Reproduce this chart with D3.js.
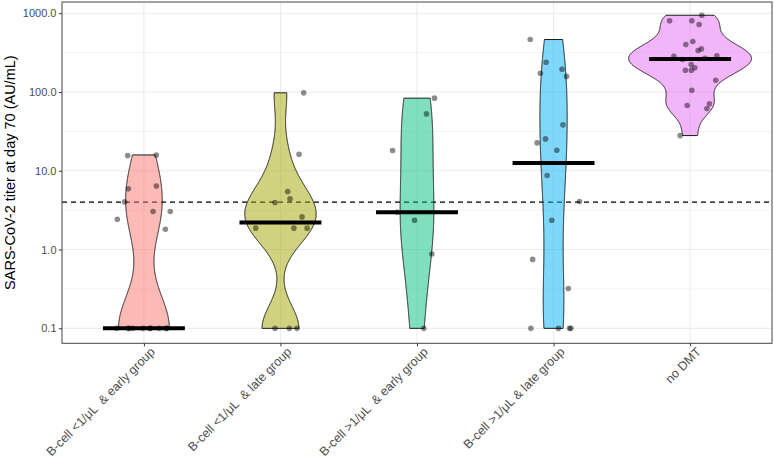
<!DOCTYPE html>
<html><head><meta charset="utf-8">
<script src="https://cdn.jsdelivr.net/npm/d3@7"></script>
<style>
body{margin:0;background:#fff}
text{font-family:"Liberation Sans",Arial,Helvetica,sans-serif}
</style>
</head><body>
<svg id="chart" width="774" height="458"></svg>
<script>
// ---------- data ----------
const categories = [
  "B-cell <1/\u03bcL  & early group",
  "B-cell <1/\u03bcL  & late group",
  "B-cell >1/\u03bcL  & early group",
  "B-cell >1/\u03bcL & late group",
  "no DMT"
];
const colors = ["#F8766D", "#A3A500", "#00BF7D", "#00B0F6", "#E76BF3"];

const g1Values = [15.6, 15.9, 5.9, 6.4, 4.03, 3.04, 3.04, 2.43, 1.81, 0.1, 0.1, 0.1, 0.1, 0.1, 0.1, 0.1, 0.1, 0.1, 0.1];
const g1Jitter = [-0.119, 0.091, -0.114, 0.091, -0.141, 0.067, 0.193, -0.195, 0.157, -0.199, -0.114, -0.082, -0.007, 0.045, 0.111, 0.167, -0.110, 0.048, 0.163];

const g2Values = [97.7, 16.2, 5.45, 4.4, 3.95, 2.6, 1.87, 1.87, 1.87, 0.1, 0.1, 0.1];
const g2Jitter = [0.170, 0.136, 0.053, 0.070, -0.040, 0.158, -0.181, 0.098, 0.195, -0.040, 0.065, 0.121];

const g3Values = [83.6, 52.8, 18.1, 2.98, 2.36, 0.88, 0.1];
const g3Jitter = [0.128, 0.069, -0.179, -0.145, -0.018, 0.109, 0.050];

const g4Values = [464, 239, 195, 173, 158, 38.3, 25.4, 22.6, 18.2, 8.7, 4.07, 2.36, 0.75, 0.32, 0.1, 0.1, 0.1, 0.1];
const g4Jitter = [-0.171, -0.054, 0.062, -0.096, 0.095, 0.069, -0.059, -0.120, 0.024, -0.047, 0.190, -0.013, -0.153, 0.108, -0.166, 0.036, 0.117, 0.127];

const g5Values = [944, 802, 802, 720, 438, 401, 353, 336, 285, 288, 268, 259, 223, 203, 189, 189, 141, 105, 67.4, 70.8, 61.7, 28];
const g5Jitter = [0.086, -0.150, 0.013, 0.066, 0.020, -0.031, 0.083, 0.059, -0.119, 0.196, 0.109, -0.055, 0.008, 0.035, -0.034, 0.010, 0.188, 0.013, -0.021, 0.142, 0.123, -0.073];

const threshold = 4.0;
const yTicks = [0.1, 1, 10, 100, 1000];
const yMinorTicks = [Math.pow(10, -0.5), Math.pow(10, 0.5), Math.pow(10, 1.5), Math.pow(10, 2.5)];
const yTitle = "SARS-CoV-2 titer at day 70 (AU/mL)";

const groupValues = [g1Values, g2Values, g3Values, g4Values, g5Values];
const groupJitter = [g1Jitter, g2Jitter, g3Jitter, g4Jitter, g5Jitter];

// ---------- layout ----------
const panel = {left: 62, right: 772, top: 2, bottom: 343.3};
const svg = d3.select("#chart");

const x = d3.scalePoint().domain(categories).range([panel.left, panel.right]).padding(0.6);
const step = x.step();
const y = d3.scaleLog().domain([Math.pow(10, -1.19), Math.pow(10, 3.143)]).range([panel.bottom, panel.top]);

// grid
const grid = svg.append("g");
grid.selectAll("line.minor").data(yMinorTicks).join("line")
  .attr("x1", panel.left).attr("x2", panel.right)
  .attr("y1", d => y(d)).attr("y2", d => y(d))
  .attr("stroke", "#EBEBEB").attr("stroke-width", 0.6);
grid.selectAll("line.major").data(yTicks).join("line")
  .attr("x1", panel.left).attr("x2", panel.right)
  .attr("y1", d => y(d)).attr("y2", d => y(d))
  .attr("stroke", "#EBEBEB").attr("stroke-width", 1.1);
grid.selectAll("line.vmajor").data(categories).join("line")
  .attr("x1", d => x(d)).attr("x2", d => x(d))
  .attr("y1", panel.top).attr("y2", panel.bottom)
  .attr("stroke", "#EBEBEB").attr("stroke-width", 1.1);

// threshold line
svg.append("line")
  .attr("x1", panel.left).attr("x2", panel.right)
  .attr("y1", y(threshold)).attr("y2", y(threshold))
  .attr("stroke", "#000").attr("stroke-width", 1.1).attr("stroke-dasharray", "5,4");

// ---------- violins (gaussian KDE on log10 scale, bw.nrd0, scale = "area") ----------
function bwNrd0(v) {
  const s = [...v].sort(d3.ascending);
  const hi = d3.deviation(s);
  const iqr = d3.quantileSorted(s, 0.75) - d3.quantileSorted(s, 0.25);
  let lo = Math.min(hi, iqr / 1.34);
  if (!lo) lo = hi || Math.abs(s[0]) || 1;
  return 0.9 * lo * Math.pow(s.length, -0.2);
}
const dens = groupValues.map(vals => {
  const lv = vals.map(Math.log10);
  const bw = bwNrd0(lv);
  const [mn, mx] = d3.extent(lv);
  const n = 512;
  const pts = [];
  for (let i = 0; i < n; i++) {
    const t = mn + (mx - mn) * i / (n - 1);
    let s = 0;
    for (const v of lv) { const z = (t - v) / bw; s += Math.exp(-0.5 * z * z); }
    pts.push({t, d: s / (lv.length * bw * Math.sqrt(2 * Math.PI))});
  }
  return pts;
});
const maxD = d3.max(dens, g => d3.max(g, p => p.d));
const halfMax = 0.45 * step;

dens.forEach((pts, i) => {
  const cx = x(categories[i]);
  const area = d3.area()
    .y(p => y(Math.pow(10, p.t)))
    .x0(p => cx - p.d / maxD * halfMax)
    .x1(p => cx + p.d / maxD * halfMax);
  svg.append("path").attr("d", area(pts))
    .attr("fill", colors[i]).attr("fill-opacity", 0.5)
    .attr("stroke", "#1a1a1a").attr("stroke-width", 1).attr("stroke-linejoin", "round");
});

// ---------- jittered points ----------
groupValues.forEach((vals, i) => {
  const cx = x(categories[i]);
  svg.append("g").selectAll("circle").data(vals.map((v, j) => ({v, j: groupJitter[i][j]}))).join("circle")
    .attr("cx", d => cx + d.j * step)
    .attr("cy", d => y(d.v))
    .attr("r", 2.8)
    .attr("fill", "#000").attr("fill-opacity", 0.45);
});

// ---------- median crossbars (median on log scale) ----------
groupValues.forEach((vals, i) => {
  const cx = x(categories[i]);
  const med = Math.pow(10, d3.median(vals.map(Math.log10)));
  svg.append("line")
    .attr("x1", cx - 0.3 * step).attr("x2", cx + 0.3 * step)
    .attr("y1", y(med)).attr("y2", y(med))
    .attr("stroke", "#000").attr("stroke-width", 4);
});

// panel border
svg.append("rect")
  .attr("x", panel.left).attr("y", panel.top)
  .attr("width", panel.right - panel.left).attr("height", panel.bottom - panel.top)
  .attr("fill", "none").attr("stroke", "#444").attr("stroke-width", 1);

// ---------- axes ----------
const yAxis = svg.append("g").attr("transform", `translate(${panel.left},0)`)
  .call(d3.axisLeft(y).tickValues(yTicks).tickFormat(d3.format(".1f")).tickSize(3).tickPadding(2.5));
yAxis.select(".domain").remove();
yAxis.selectAll("line").attr("stroke", "#333");
yAxis.selectAll("text").attr("fill", "#4D4D4D").style("font-size", "11px")
  .style("font-family", "'Liberation Sans', Arial, sans-serif");

const xAxis = svg.append("g").attr("transform", `translate(0,${panel.bottom})`)
  .call(d3.axisBottom(x).tickSize(3).tickPadding(2));
xAxis.select(".domain").remove();
xAxis.selectAll("line").attr("stroke", "#333");
xAxis.selectAll("text")
  .attr("fill", "#4D4D4D").style("font-size", "12.5px")
  .style("font-family", "'Liberation Sans', Arial, sans-serif")
  .style("white-space", "pre")
  .attr("text-anchor", "end")
  .attr("transform", "translate(5,3) rotate(-45)")
  .attr("dy", "0.71em").attr("y", 0);

// y title
svg.append("text")
  .attr("transform", `translate(15,${(panel.top + panel.bottom) / 2}) rotate(-90)`)
  .attr("text-anchor", "middle")
  .attr("fill", "#000")
  .style("font-size", "14.5px")
  .text(yTitle);
</script>
</body></html>
